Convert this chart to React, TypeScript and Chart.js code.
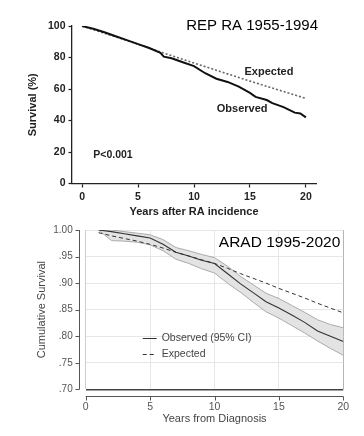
import React, { useEffect, useRef } from 'react';
import { Chart, registerables } from 'chart.js';

Chart.register(...registerables);
Chart.defaults.font.family = '"Liberation Sans", Arial, sans-serif';

// ---------- Top chart: REP RA 1955-1994 ----------
const REP_TITLE = 'REP RA 1955-1994';
const repXTicks = [0, 5, 10, 15, 20];
const repYTicks = [0, 20, 40, 60, 80, 100];
const repObsYears = [0, 1, 2, 3, 4, 5, 6, 7, 7.3, 8, 9, 10, 11, 12, 13, 14, 15, 15.5, 16.5, 17, 18, 19, 19.5, 20];
const repObserved = [100, 98.2, 96, 93.5, 91, 88.5, 86, 83, 80.5, 79.5, 77, 74.5, 70, 66.5, 64.5, 61.5, 57.5, 55, 53, 51, 48.5, 45, 44.5, 42];
const repExpYears = [0, 5, 7, 10, 15, 20];
const repExpected = [100, 88.5, 83.5, 76.5, 65, 54];

// ---------- Bottom chart: ARAD 1995-2020 ----------
const ARAD_TITLE = 'ARAD 1995-2020';
const aradXTicks = [0, 5, 10, 15, 20];
const aradYTicks = [0.7, 0.75, 0.8, 0.85, 0.9, 0.95, 1.0];
const aradYears = [1, 2, 3, 4, 5, 6, 7, 8, 9, 10, 11, 12, 13, 14, 15, 16, 17, 18, 19, 20];
const aradObserved = [1.0, 0.997, 0.993, 0.989, 0.985, 0.973, 0.958, 0.951, 0.943, 0.937, 0.918, 0.899, 0.882, 0.865, 0.853, 0.84, 0.826, 0.81, 0.8, 0.79];
const aradUpper = [1.0, 1.0, 0.997, 0.994, 0.991, 0.982, 0.967, 0.961, 0.954, 0.948, 0.932, 0.913, 0.897, 0.881, 0.871, 0.858, 0.845, 0.831, 0.822, 0.816];
const aradLower = [1.0, 0.98, 0.979, 0.977, 0.972, 0.961, 0.945, 0.937, 0.927, 0.919, 0.9, 0.883, 0.864, 0.846, 0.834, 0.82, 0.806, 0.791, 0.777, 0.764];
const aradExpected = [0.995, 0.989, 0.984, 0.979, 0.973, 0.966, 0.958, 0.951, 0.944, 0.937, 0.928, 0.918, 0.909, 0.9, 0.89, 0.881, 0.872, 0.862, 0.853, 0.844];

const pts = (xs: number[], ys: number[]) => xs.map((x, i) => ({ x, y: ys[i] }));

const repTextPlugin = {
  id: 'repText',
  afterDraw(chart: any) {
    const { ctx, chartArea: ca, scales } = chart;
    const x = scales.x, y = scales.y;
    ctx.save();
    ctx.fillStyle = '#000';
    ctx.font = '15px "Liberation Sans", Arial, sans-serif';
    ctx.textAlign = 'right';
    ctx.textBaseline = 'middle';
    ctx.fillText(REP_TITLE, ca.right + 2, ca.top);
    ctx.fillStyle = '#222';
    ctx.font = 'bold 11px "Liberation Sans", Arial, sans-serif';
    ctx.textAlign = 'center';
    ctx.fillText('Expected', x.getPixelForValue(16.7), y.getPixelForValue(70.8));
    ctx.fillText('Observed', x.getPixelForValue(14.3), y.getPixelForValue(47.3));
    ctx.font = 'bold 10.5px "Liberation Sans", Arial, sans-serif';
    ctx.textAlign = 'left';
    ctx.fillText('P<0.001', x.getPixelForValue(1.0), y.getPixelForValue(18.1));
    ctx.restore();
  },
};

const aradPlugin = {
  id: 'aradDecor',
  afterDraw(chart: any) {
    const { ctx, chartArea: ca, scales } = chart;
    const x = scales.x, y = scales.y;
    ctx.save();
    // offset axis lines
    ctx.strokeStyle = '#555';
    ctx.lineWidth = 1;
    const axY = Math.round(ca.bottom + 7) + 0.5;
    const axX = Math.round(ca.left - 7) + 0.5;
    ctx.beginPath();
    ctx.moveTo(x.getPixelForValue(aradXTicks[0]), axY);
    ctx.lineTo(x.getPixelForValue(aradXTicks[aradXTicks.length - 1]), axY);
    ctx.moveTo(axX, y.getPixelForValue(aradYTicks[aradYTicks.length - 1]));
    ctx.lineTo(axX, y.getPixelForValue(aradYTicks[0]));
    for (const t of x.ticks) {
      const px = Math.round(x.getPixelForValue(t.value)) + 0.5;
      ctx.moveTo(px, axY);
      ctx.lineTo(px, axY + 4);
    }
    for (const t of y.ticks) {
      const py = Math.round(y.getPixelForValue(t.value)) + 0.5;
      ctx.moveTo(axX - 4, py);
      ctx.lineTo(axX, py);
    }
    ctx.stroke();

    // title text
    ctx.fillStyle = '#000';
    ctx.font = '15.5px "Liberation Sans", Arial, sans-serif';
    ctx.textAlign = 'right';
    ctx.textBaseline = 'middle';
    ctx.fillText(ARAD_TITLE, ca.right - 3, ca.top + 13);

    // legend
    const ds = chart.data.datasets;
    const lx = ca.left + 57;
    const rows = [
      { d: ds[0], y: ca.top + 108 },
      { d: ds[1], y: ca.top + 124 },
    ];
    ctx.font = '10.5px "Liberation Sans", Arial, sans-serif';
    ctx.textAlign = 'left';
    for (const r of rows) {
      ctx.beginPath();
      ctx.strokeStyle = r.d.borderColor;
      ctx.lineWidth = 1;
      ctx.setLineDash(r.d.borderDash || []);
      ctx.moveTo(lx, Math.round(r.y) + 0.5);
      ctx.lineTo(lx + 14, Math.round(r.y) + 0.5);
      ctx.stroke();
      ctx.setLineDash([]);
      ctx.fillStyle = '#444';
      ctx.fillText(r.d.label, lx + 19, r.y);
    }
    ctx.restore();
  },
};

function RepChart() {
  const ref = useRef<HTMLCanvasElement>(null);
  useEffect(() => {
    if (!ref.current) return;
    const chart = new Chart(ref.current, {
      type: 'line',
      data: {
        datasets: [
          {
            label: 'Observed',
            data: pts(repObsYears, repObserved),
            borderColor: '#111',
            borderWidth: 2,
            pointRadius: 0,
            fill: false,
          },
          {
            label: 'Expected',
            data: pts(repExpYears, repExpected),
            borderColor: '#666',
            borderWidth: 1.6,
            borderDash: [2, 2],
            pointRadius: 0,
            fill: false,
          },
        ],
      },
      options: {
        responsive: false,
        animation: false,
        events: [],
        layout: { padding: { top: 26, right: 48, left: 0, bottom: 0 } },
        plugins: { legend: { display: false }, tooltip: { enabled: false }, title: { display: false } },
        scales: {
          x: {
            type: 'linear',
            min: -0.9,
            max: 20.9,
            afterBuildTicks: (s: any) => { s.ticks = repXTicks.map((v) => ({ value: v })); },
            afterFit: (s: any) => { s.height = 36.5; },
            grid: { display: true, drawOnChartArea: false, drawTicks: true, tickLength: 4, tickColor: '#222', tickWidth: 1.2 },
            border: { display: true, color: '#222', width: 1.3 },
            ticks: { color: '#222', font: { size: 10.5, weight: 'bold' }, padding: 3, maxRotation: 0 },
            title: { display: true, text: 'Years after RA incidence', color: '#222', font: { size: 11, weight: 'bold' }, padding: { top: 0, bottom: 1.4 } },
          },
          y: {
            type: 'linear',
            min: 0,
            max: 100,
            afterBuildTicks: (s: any) => { s.ticks = repYTicks.map((v) => ({ value: v })); },
            afterFit: (s: any) => { s.width = 72; },
            grid: { display: true, drawOnChartArea: false, drawTicks: true, tickLength: 3.5, tickColor: '#222', tickWidth: 1.2 },
            border: { display: true, color: '#222', width: 1.3 },
            ticks: { color: '#222', font: { size: 10.5, weight: 'bold' }, padding: 3 },
            title: { display: true, text: 'Survival (%)', color: '#222', font: { size: 11, weight: 'bold' }, padding: { top: 26.4, bottom: 0 } },
          },
        },
      } as any,
      plugins: [repTextPlugin],
    });
    return () => chart.destroy();
  }, []);
  return <canvas ref={ref} width={364} height={220} style={{ display: 'block' }} />;
}

function AradChart() {
  const ref = useRef<HTMLCanvasElement>(null);
  useEffect(() => {
    if (!ref.current) return;
    const chart = new Chart(ref.current, {
      type: 'line',
      data: {
        datasets: [
          {
            label: 'Observed (95% CI)',
            data: pts(aradYears, aradObserved),
            borderColor: '#333',
            borderWidth: 1.1,
            pointRadius: 0,
            fill: false,
          },
          {
            label: 'Expected',
            data: pts(aradYears, aradExpected),
            borderColor: '#333',
            borderWidth: 1,
            borderDash: [4, 3],
            pointRadius: 0,
            fill: false,
          },
          {
            label: 'Upper 95% CI',
            data: pts(aradYears, aradUpper),
            borderColor: '#999',
            borderWidth: 0.8,
            backgroundColor: '#e3e3e3',
            pointRadius: 0,
            fill: '+1',
          },
          {
            label: 'Lower 95% CI',
            data: pts(aradYears, aradLower),
            borderColor: '#999',
            borderWidth: 0.8,
            pointRadius: 0,
            fill: false,
          },
        ],
      },
      options: {
        responsive: false,
        animation: false,
        events: [],
        layout: { padding: { top: 10, right: 20.7, left: 0, bottom: 0 } },
        plugins: {
          legend: { display: false },
          tooltip: { enabled: false },
          filler: { drawTime: 'beforeDatasetsDraw' },
        },
        scales: {
          x: {
            type: 'linear',
            min: 0,
            max: 20,
            afterBuildTicks: (s: any) => { s.ticks = aradXTicks.map((v) => ({ value: v })); },
            afterFit: (s: any) => { s.height = 46.7; },
            grid: {
              display: true,
              drawOnChartArea: true,
              drawTicks: true,
              tickLength: 10.5,
              tickColor: 'rgba(0,0,0,0)',
              color: (c: any) => (c.tick && c.tick.value === 0 ? '#cfcfcf' : c.tick && c.tick.value === 20 ? '#b5b5b5' : '#e6e6e6'),
              lineWidth: 1,
            },
            border: { display: false },
            ticks: { color: '#555', font: { size: 10.5 }, padding: 1, maxRotation: 0 },
            title: { display: true, text: 'Years from Diagnosis', color: '#444', font: { size: 11 }, padding: { top: 0, bottom: 10.5 } },
          },
          y: {
            type: 'linear',
            min: 0.7,
            max: 1.0,
            afterBuildTicks: (s: any) => { s.ticks = aradYTicks.map((v) => ({ value: v })); },
            afterFit: (s: any) => { s.width = 85.7; },
            grid: {
              display: true,
              drawOnChartArea: true,
              drawTicks: true,
              tickLength: 10,
              tickColor: 'rgba(0,0,0,0)',
              color: (c: any) => (c.tick && Math.abs(c.tick.value - 0.7) < 1e-6 ? '#444' : '#e6e6e6'),
              lineWidth: (c: any) => (c.tick && Math.abs(c.tick.value - 0.7) < 1e-6 ? 1.5 : 1),
            },
            border: { display: false },
            ticks: {
              color: '#555',
              font: { size: 10 },
              padding: 3,
              callback: (v: any) => (Math.abs(v - 1) < 1e-6 ? '1.00' : Number(v).toFixed(2).replace(/^0/, '')),
            },
            title: { display: true, text: 'Cumulative Survival', color: '#444', font: { size: 11 }, padding: { top: 35.5, bottom: 0 } },
          },
        },
      } as any,
      plugins: [aradPlugin],
    });
    return () => chart.destroy();
  }, []);
  return <canvas ref={ref} width={364} height={216} style={{ display: 'block' }} />;
}

export default function App() {
  return (
    <div style={{ position: 'absolute', left: 0, top: 0, width: 364, height: 436, background: '#fff' }}>
      <div style={{ position: 'absolute', left: 0, top: 0 }}>
        <RepChart />
      </div>
      <div style={{ position: 'absolute', left: 0, top: 220 }}>
        <AradChart />
      </div>
    </div>
  );
}
